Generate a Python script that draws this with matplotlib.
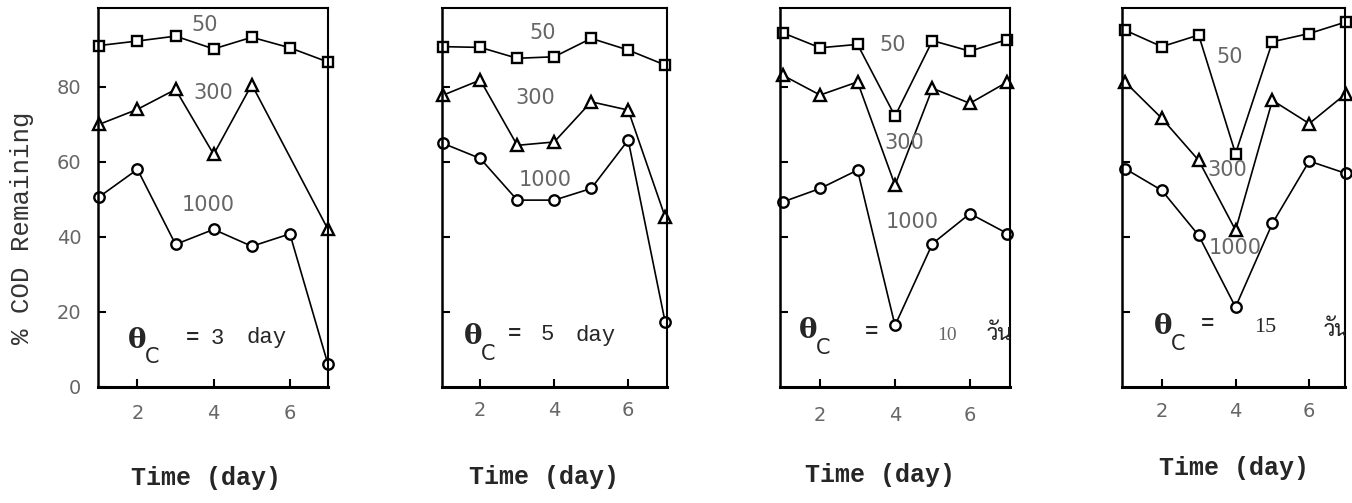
import matplotlib
matplotlib.use("Agg")
import matplotlib.pyplot as plt

# ---------------- data ----------------
days = [1, 2, 3, 4, 5, 6, 7]
days_no6 = [1, 2, 3, 4, 5, 7]

# theta_c = 3 day
p1_50 = [91.0, 92.2, 93.5, 90.1, 93.2, 90.4, 86.6]
p1_300 = [70.0, 74.0, 79.3, 62.0, 80.6, 42.0]          # no point on day 6
p1_1000 = [50.7, 58.0, 38.0, 42.0, 37.5, 40.8, 6.0]
# theta_c = 5 day
p2_50 = [90.7, 90.5, 87.6, 88.0, 92.9, 89.8, 85.8]
p2_300 = [77.8, 81.8, 64.4, 65.3, 76.0, 73.8, 45.3]
p2_1000 = [64.9, 60.9, 49.8, 49.8, 52.9, 65.8, 17.3]
# theta_c = 10 day
p3_50 = [94.4, 90.4, 91.3, 72.2, 92.3, 89.5, 92.6]
p3_300 = [83.1, 77.8, 81.3, 53.8, 79.6, 75.6, 81.3]
p3_1000 = [49.3, 52.9, 57.8, 16.4, 38.2, 46.2, 40.9]
# theta_c = 15 day
p4_50 = [95.1, 90.7, 93.8, 62.2, 92.0, 94.2, 97.3]
p4_300 = [81.3, 71.6, 60.4, 41.8, 76.4, 70.2, 78.2]
p4_1000 = [58.2, 52.4, 40.4, 21.3, 43.6, 60.2, 56.9]

series_labels = ["50", "300", "1000"]
yticks = [0, 20, 40, 60, 80]
xticks = [2, 4, 6]
xlabel = "Time (day)"
ylabel = "% COD Remaining"
theta_vals = ["3", "5", "10", "15"]
theta_units = ["day", "day", "วัน", "วัน"]

panels = [
    (days, p1_50, days_no6, p1_300, days, p1_1000),
    (days, p2_50, days, p2_300, days, p2_1000),
    (days, p3_50, days, p3_300, days, p3_1000),
    (days, p4_50, days, p4_300, days, p4_1000),
]

# ---------------- layout ----------------
W, H = 1352, 503
fig = plt.figure(figsize=(W / 100, H / 100), dpi=100)
fig.patch.set_facecolor("white")

def fx(x):
    return x / W

def fy(y):
    return 1 - y / H

ax_px = [(98, 328), (442, 667), (780, 1010), (1122, 1345)]
xlims = [(0.965, 7.0), (0.965, 7.05), (0.93, 7.07), (0.92, 6.97)]
top_px, bot_px = 8, 387

mono = ["Liberation Mono", "DejaVu Sans Mono"]
sans = ["DejaVu Sans"]
serif = ["Liberation Serif", "DejaVu Serif"]
thai = ["Sarabun", "Athiti", "DejaVu Sans"]
grey = "#666666"
dark = "#262626"

ann = [
    dict(s50=(205, 25), s300=(213, 93), s1000=(208, 205)),
    dict(s50=(543, 33), s300=(535, 98), s1000=(545, 180)),
    dict(s50=(893, 45), s300=(904, 143), s1000=(912, 222)),
    dict(s50=(1230, 57), s300=(1227, 170), s1000=(1235, 248)),
]
theta_pos = [(137, 340), (473, 337), (808, 331), (1163, 327)]
eq_pos = [(193, 338), (515, 335), (872, 332), (1208, 325)]
val_pos = [(217, 338), (547, 335), (947, 335), (1265, 328)]
unit_pos = [(267, 338), (596, 335), (987, 334), (1324, 330)]
xlabel_pos = [(206, 478), (544, 477), (880, 475), (1234, 468)]
tick_pad = [12, 10, 14, 11]

marker_style = dict(color="black", lw=1.2, mfc="white", mec="black", mew=1.7, clip_on=False)

for i, (l, r) in enumerate(ax_px):
    ax = fig.add_axes([fx(l), fy(bot_px), (r - l) / W, (bot_px - top_px) / H])
    ax.set_xlim(*xlims[i])
    ax.set_ylim(0, 101)
    x50, y50, x300, y300, x1000, y1000 = panels[i]
    ax.plot(x50, y50, marker="s", ms=7, **marker_style)
    ax.plot(x300, y300, marker="^", ms=8, **marker_style)
    ax.plot(x1000, y1000, marker="o", ms=7.5, **marker_style)
    for s in ax.spines.values():
        s.set_linewidth(1.5)
    ax.spines["bottom"].set_linewidth(2.2)
    ax.spines["left"].set_linewidth(1.8)
    ax.set_xticks(xticks)
    ax.set_yticks(yticks if i == 0 else [20, 40, 60, 80])
    ax.tick_params(direction="in", length=6, width=1.5, colors="black",
                   labelcolor=grey, labelsize=14)
    ax.tick_params(axis="x", pad=tick_pad[i])
    ax.tick_params(axis="y", pad=12)
    ax.set_xticklabels([str(t) for t in xticks], fontfamily=sans)
    if i == 0:
        ax.set_yticklabels([str(t) for t in yticks], fontfamily=sans)
    else:
        ax.set_yticklabels([])

    a = ann[i]
    for key, lab in zip(["s50", "s300", "s1000"], series_labels):
        px, py = a[key]
        fig.text(fx(px), fy(py), lab, ha="center", va="center", color=grey,
                 fontsize=15, family=sans)

    tx, ty = theta_pos[i]
    fig.text(fx(tx), fy(ty), "θ", ha="center", va="center", fontsize=20,
             family=["DejaVu Serif"], fontweight="bold", color=dark)
    fig.text(fx(tx + 15), fy(ty + 17), "C", ha="center", va="center", fontsize=15,
             family=sans, color=dark)
    ex, ey = eq_pos[i]
    fig.text(fx(ex), fy(ey), "=", ha="center", va="center", fontsize=16,
             family=mono, fontweight="bold", color=dark)
    vx, vy = val_pos[i]
    ux, uy = unit_pos[i]
    if i < 2:
        fig.text(fx(vx), fy(vy), theta_vals[i], ha="center", va="center",
                 fontsize=16, family=mono, color=dark)
        fig.text(fx(ux), fy(uy), theta_units[i], ha="center", va="center",
                 fontsize=16, family=mono, color=dark)
    else:
        fig.text(fx(vx), fy(vy), theta_vals[i], ha="center", va="center",
                 fontsize=14 if i == 2 else 16, family=serif,
                 color=grey if i == 2 else dark)
        ax.text(fx(ux), fy(uy), theta_units[i], ha="left", va="center",
                fontsize=16, family=thai, color=dark,
                transform=fig.transFigure, clip_on=True)

    lx, ly = xlabel_pos[i]
    fig.text(fx(lx), fy(ly), xlabel, ha="center", va="center", fontsize=18,
             family=mono, fontweight="bold", color=dark)

fig.text(fx(22), fy(228), ylabel, rotation=90, ha="center", va="center",
         fontsize=18.5, family=mono, color="#333333")

fig.savefig("out.png", dpi=100)
